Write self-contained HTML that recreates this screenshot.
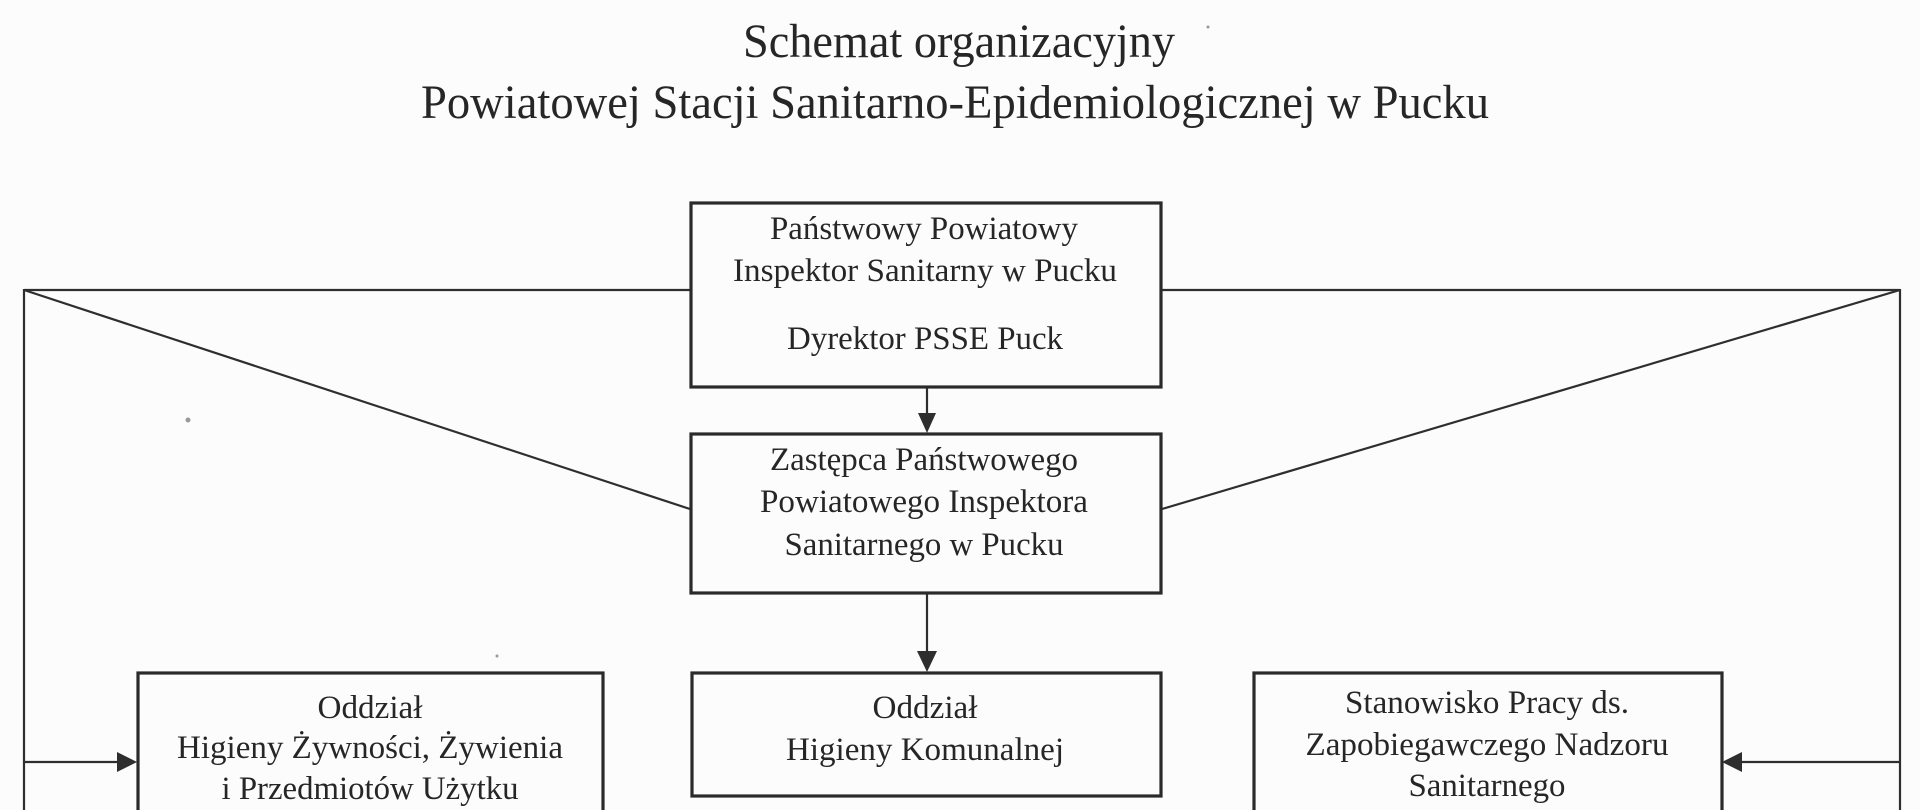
<!DOCTYPE html>
<html>
<head>
<meta charset="utf-8">
<style>
  html,body{margin:0;padding:0;background:#fcfcfc;}
  svg{display:block;}
  text{font-family:"Liberation Serif","Times New Roman",serif;fill:#262626;}
</style>
</head>
<body>
<svg width="1920" height="810" viewBox="0 0 1920 810" xmlns="http://www.w3.org/2000/svg">
  <rect x="0" y="0" width="1920" height="810" fill="#fcfcfc"/>

  <!-- Title -->
  <text x="959" y="57" font-size="48" text-anchor="middle" textLength="432" lengthAdjust="spacingAndGlyphs">Schemat organizacyjny</text>
  <text x="955" y="118" font-size="48" text-anchor="middle" textLength="1068" lengthAdjust="spacingAndGlyphs">Powiatowej Stacji Sanitarno-Epidemiologicznej w Pucku</text>

  <!-- connector lines -->
  <g stroke="#2e2e2e" stroke-width="2.2" fill="none">
    <line x1="24" y1="290" x2="690" y2="290"/>
    <line x1="1162" y1="290" x2="1900" y2="290"/>
    <line x1="24" y1="290" x2="690" y2="509"/>
    <line x1="1900" y1="290" x2="1162" y2="509"/>
    <line x1="24" y1="289" x2="24" y2="810"/>
    <line x1="1900" y1="289" x2="1900" y2="810"/>
    <line x1="24" y1="762" x2="122" y2="762"/>
    <line x1="1900" y1="762" x2="1737" y2="762"/>
    <line x1="927" y1="387" x2="927" y2="418"/>
    <line x1="927" y1="593" x2="927" y2="657"/>
  </g>

  <!-- arrowheads -->
  <g fill="#2e2e2e">
    <polygon points="927,433 918,413 936,413"/>
    <polygon points="927,672 917,651 937,651"/>
    <polygon points="137,762 117,752 117,772"/>
    <polygon points="1722,762 1742,752 1742,772"/>
  </g>

  <!-- boxes -->
  <g stroke="#2a2a2a" stroke-width="3.2" fill="none">
    <rect x="691" y="203" width="470" height="184"/>
    <rect x="691" y="434" width="470" height="159"/>
    <rect x="138" y="673" width="465" height="150"/>
    <rect x="692" y="673" width="469" height="123"/>
    <rect x="1254" y="673" width="468" height="150"/>
  </g>

  <!-- top box text -->
  <text x="924" y="239" font-size="33" text-anchor="middle" textLength="308" lengthAdjust="spacingAndGlyphs">Państwowy Powiatowy</text>
  <text x="925" y="281" font-size="33" text-anchor="middle" textLength="384" lengthAdjust="spacingAndGlyphs">Inspektor Sanitarny w Pucku</text>
  <text x="925" y="349" font-size="33" text-anchor="middle" textLength="276" lengthAdjust="spacingAndGlyphs">Dyrektor PSSE Puck</text>

  <!-- second box text -->
  <text x="924" y="470" font-size="33" text-anchor="middle" textLength="308" lengthAdjust="spacingAndGlyphs">Zastępca Państwowego</text>
  <text x="924" y="512" font-size="33" text-anchor="middle" textLength="328" lengthAdjust="spacingAndGlyphs">Powiatowego Inspektora</text>
  <text x="924" y="555" font-size="33" text-anchor="middle" textLength="279" lengthAdjust="spacingAndGlyphs">Sanitarnego w Pucku</text>

  <!-- left bottom box -->
  <text x="370" y="718" font-size="33" text-anchor="middle" textLength="105" lengthAdjust="spacingAndGlyphs">Oddział</text>
  <text x="370" y="758" font-size="33" text-anchor="middle" textLength="386" lengthAdjust="spacingAndGlyphs">Higieny Żywności, Żywienia</text>
  <text x="370" y="799" font-size="33" text-anchor="middle" textLength="297" lengthAdjust="spacingAndGlyphs">i Przedmiotów Użytku</text>

  <!-- middle bottom box -->
  <text x="925" y="718" font-size="33" text-anchor="middle" textLength="105" lengthAdjust="spacingAndGlyphs">Oddział</text>
  <text x="925" y="760" font-size="33" text-anchor="middle" textLength="278" lengthAdjust="spacingAndGlyphs">Higieny Komunalnej</text>

  <!-- right bottom box -->
  <text x="1487" y="713" font-size="33" text-anchor="middle" textLength="284" lengthAdjust="spacingAndGlyphs">Stanowisko Pracy ds.</text>
  <text x="1487" y="755" font-size="33" text-anchor="middle" textLength="363" lengthAdjust="spacingAndGlyphs">Zapobiegawczego Nadzoru</text>
  <text x="1487" y="796" font-size="33" text-anchor="middle" textLength="157" lengthAdjust="spacingAndGlyphs">Sanitarnego</text>

  <!-- scan specks -->
  <g fill="#999">
    <circle cx="188" cy="420" r="2.5"/>
    <circle cx="497" cy="656" r="1.5"/>
    <circle cx="1208" cy="27" r="1.5"/>
  </g>
</svg>
</body>
</html>
